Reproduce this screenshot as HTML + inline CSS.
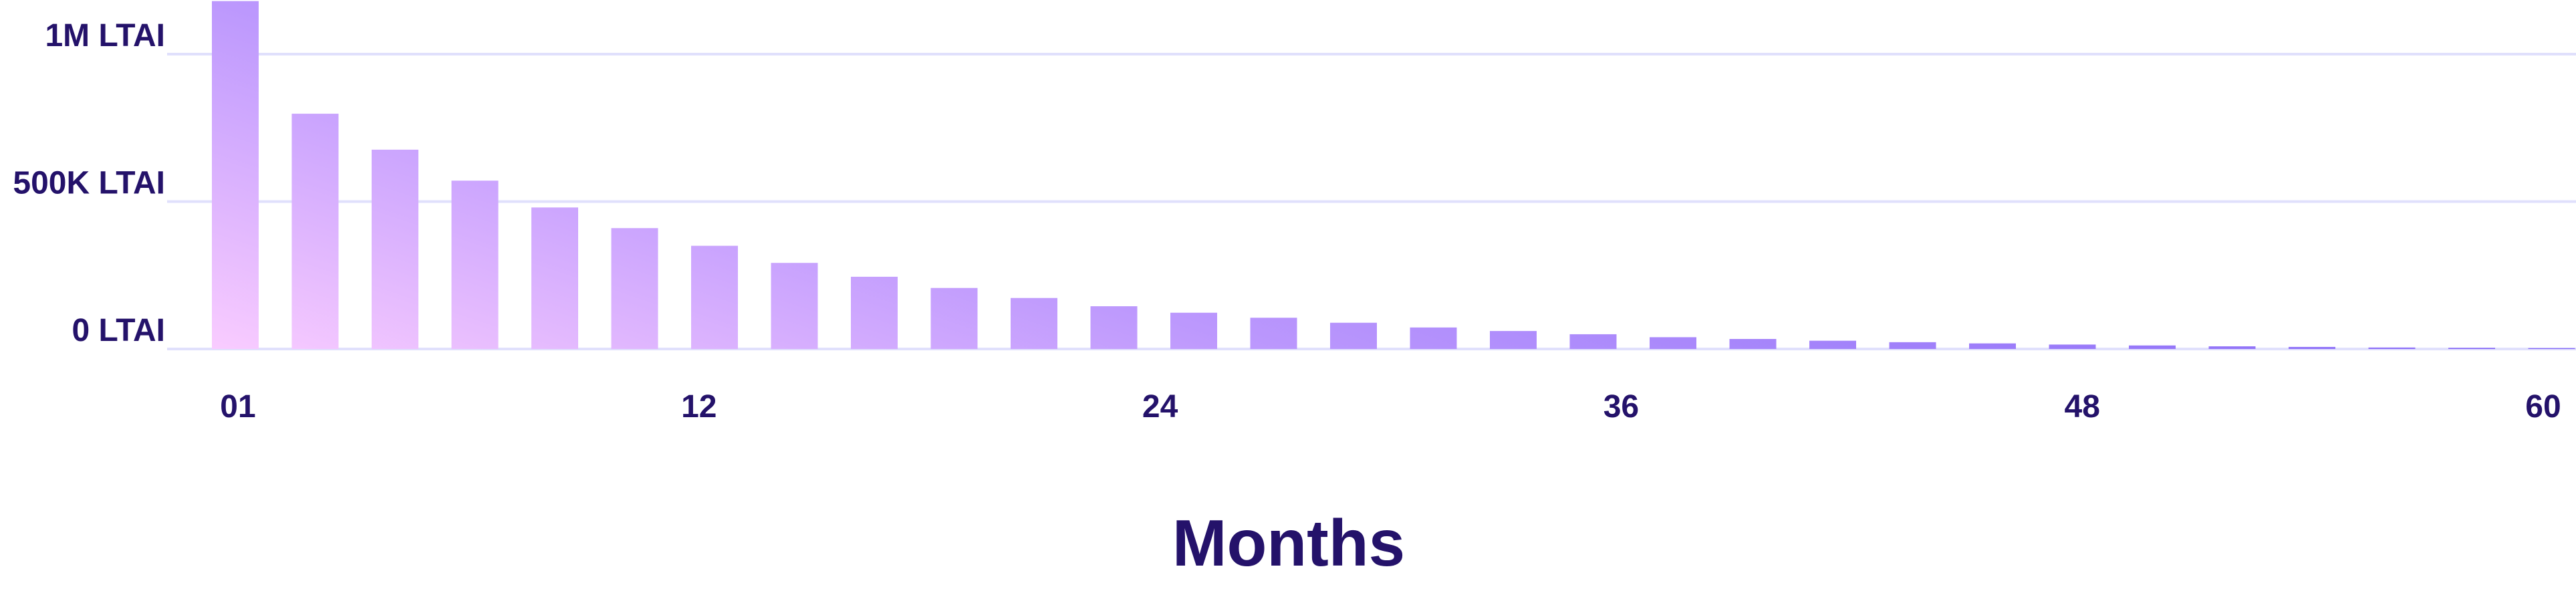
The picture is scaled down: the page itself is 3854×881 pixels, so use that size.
<!DOCTYPE html>
<html><head><meta charset="utf-8">
<style>
html,body{margin:0;padding:0;background:#fff;}
svg{display:block;}
text{font-family:"Liberation Sans",sans-serif;font-weight:bold;fill:#24126a;}
</style></head>
<body>
<svg id="chart" width="3854" height="881" viewBox="0 0 3854 881" xmlns="http://www.w3.org/2000/svg">
<defs>
<linearGradient id="barGrad" gradientUnits="userSpaceOnUse" x1="317" y1="522" x2="663" y2="-521">
<stop offset="0" stop-color="#f9ccff"/>
<stop offset="0.45" stop-color="#bc98fd"/>
<stop offset="1" stop-color="#866af7"/>
</linearGradient>
</defs>
<g id="grid"></g>
<g id="bars"></g>
<g id="ylabels"></g>
<g id="xlabels"></g>
<text x="1928" y="846" text-anchor="middle" font-size="98" style="font-weight:600">Months</text>
</svg>
<script>
const barValues = [1180000, 798000, 676000, 571000, 480000, 410000, 350000, 292000, 245000, 207000, 173000, 145000, 123000, 106000, 89000, 73000, 61000, 50000, 40000, 34000, 28000, 23000, 19000, 15000, 12000, 9000, 7000, 5000, 4000, 3000];
const yTickValues = [0, 500000, 1000000];
const yTickLabels = ["0 LTAI", "500K LTAI", "1M LTAI"];
const xTickLabels = ["01", "12", "24", "36", "48", "60"];

const NS = "http://www.w3.org/2000/svg";
const y0 = 522, yPerUnit = 441 / 1000000;
function yScale(v){ return y0 - v * yPerUnit; }
const barX0 = 317, barPitch = 119.5, barW = 70;
function xBar(i){ return barX0 + i * barPitch; }
const tickX0 = 356, tickX1 = 3805;
function xTick(i){ return tickX0 + i * (tickX1 - tickX0) / (xTickLabels.length - 1); }

const grid = document.getElementById('grid');
const yl = document.getElementById('ylabels');
yTickValues.forEach((v, i) => {
  const y = yScale(v);
  const l = document.createElementNS(NS, 'rect');
  l.setAttribute('x', 250); l.setAttribute('y', y - 2);
  l.setAttribute('width', 3604); l.setAttribute('height', 4);
  l.setAttribute('fill', '#e0e0fc');
  
  
  grid.appendChild(l);
  const t = document.createElementNS(NS, 'text');
  t.setAttribute('x', 247); t.setAttribute('y', y - 12);
  t.setAttribute('text-anchor', 'end'); t.setAttribute('font-size', '48');
  t.textContent = yTickLabels[i];
  
  
  yl.appendChild(t);
});

const bars = document.getElementById('bars');
barValues.forEach((v, i) => {
  const top = Math.max(0, yScale(v));
  const r = document.createElementNS(NS, 'rect');
  r.setAttribute('x', xBar(i)); r.setAttribute('y', top);
  r.setAttribute('width', barW); r.setAttribute('height', y0 - top);
  r.setAttribute('fill', 'url(#barGrad)');
  
  
  bars.appendChild(r);
});

const xl = document.getElementById('xlabels');
xTickLabels.forEach((s, i) => {
  const t = document.createElementNS(NS, 'text');
  t.setAttribute('x', xTick(i)); t.setAttribute('y', 624);
  t.setAttribute('text-anchor', 'middle'); t.setAttribute('font-size', '48');
  t.textContent = s;
  
  
  xl.appendChild(t);
});
</script>
</body></html>
